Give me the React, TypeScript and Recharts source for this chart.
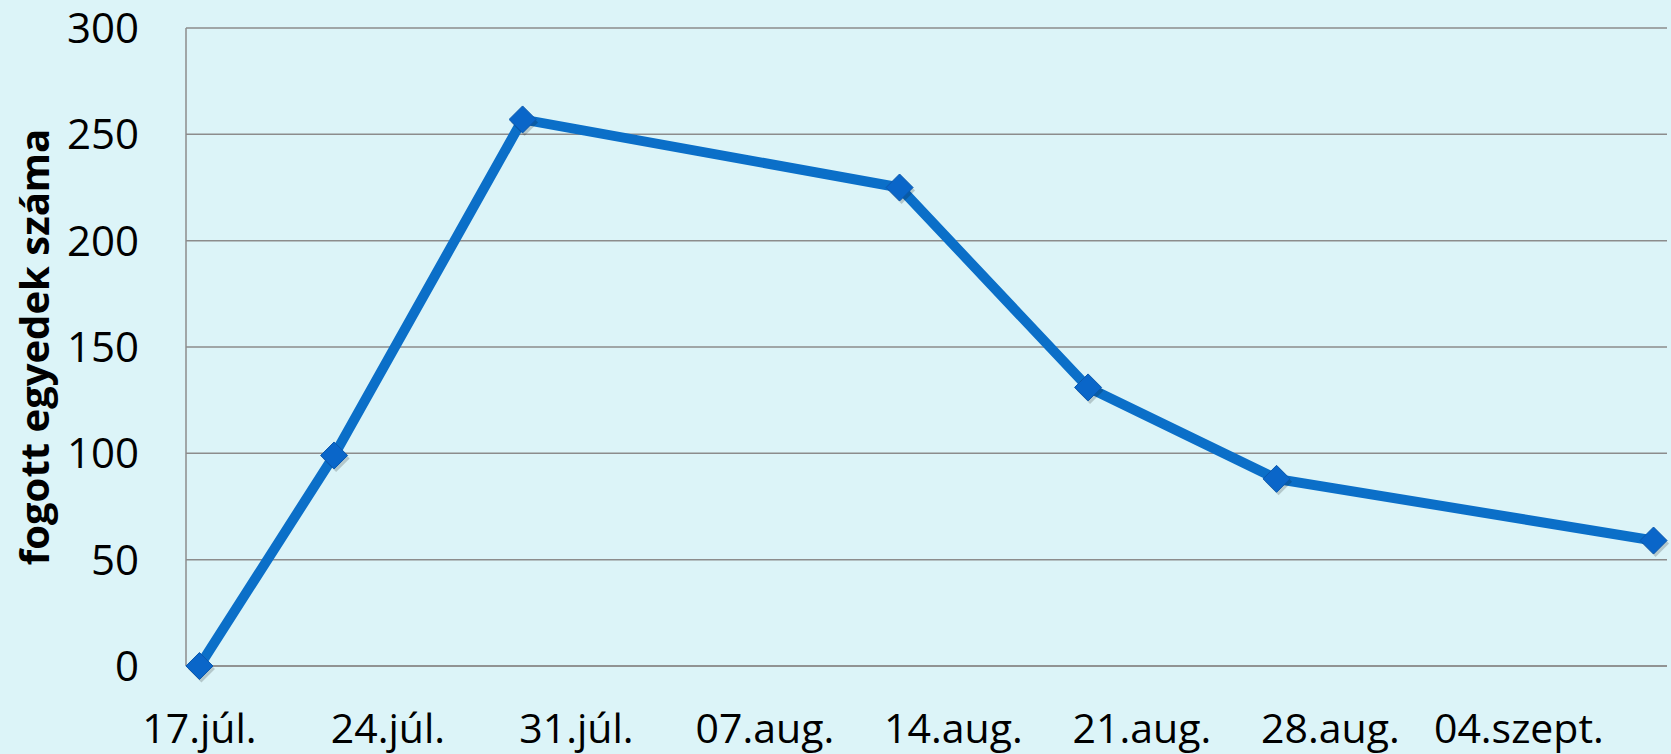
import React from "react";
import { LineChart, Line, XAxis, YAxis, CartesianGrid } from "recharts";

// sampling dates and counts
const sampleDates = ["2013-07-17", "2013-07-22", "2013-07-29", "2013-08-12", "2013-08-19", "2013-08-26", "2013-09-09"];
const counts = [0, 99, 257, 225, 131, 88, 59];

const tickDates = ["2013-07-17", "2013-07-24", "2013-07-31", "2013-08-07", "2013-08-14", "2013-08-21", "2013-08-28", "2013-09-04"];
const tickLabels = ["17.júl.", "24.júl.", "31.júl.", "07.aug.", "14.aug.", "21.aug.", "28.aug.", "04.szept."];

const yTicks = [0, 50, 100, 150, 200, 250, 300];

const DAY = 24 * 3600 * 1000;
const start = Date.parse(sampleDates[0]);
const dayOf = (d: string) => Math.round((Date.parse(d) - start) / DAY);

const data = sampleDates.map((d, i) => ({ day: dayOf(d), count: counts[i] }));
const xTicks = tickDates.map(dayOf);
const labelOf = (v: number) => tickLabels[xTicks.indexOf(v)] ?? "";

const FONT = "'Open Sans', sans-serif";
const GRID = "#8c8c8c";
const BLUE = "#0b6fc8";

const Diamond = (props: any) => {
  const { cx, cy, index } = props;
  if (cx == null || cy == null) return null;
  const r = 13.5;
  const d = (x: number, y: number) => `M${x},${y - r} L${x + r},${y} L${x},${y + r} L${x - r},${y} Z`;
  return (
    <g key={`dot-${index}`}>
      <path d={d(cx + 2, cy + 3)} fill="rgba(0,0,0,0.18)" />
      <path d={d(cx, cy)} fill="#0a66c9" stroke="#0a57ad" strokeWidth={1} />
    </g>
  );
};

const AxisTitle = (props: any) => {
  const vb = props.viewBox || {};
  const x = (vb.x ?? 0) + 33;
  const y = (vb.y ?? 0) + (vb.height ?? 0) / 2;
  return (
    <text
      x={x}
      y={y}
      transform={`rotate(-90, ${x}, ${y})`}
      textAnchor="middle"
      dominantBaseline="central"
      fontFamily={FONT}
      fontWeight="bold"
      fontSize={40}
      fill="#000"
    >
      fogott egyedek száma
    </text>
  );
};

export default function App() {
  return (
    <div style={{ width: 1671, height: 754, background: "#dcf4f8" }}>
      <style>{`body{margin:0;background:#dcf4f8}`}</style>
      <LineChart width={1671} height={754} data={data} margin={{ top: 28, right: 4, left: 0, bottom: 0 }}>
        <CartesianGrid vertical={false} stroke={GRID} strokeWidth={1.5} />
        <XAxis
          type="number"
          dataKey="day"
          domain={[-0.5, 54.5]}
          ticks={xTicks}
          tickFormatter={labelOf}
          interval={0}
          height={88}
          tickLine={false}
          tickSize={0}
          tickMargin={48}
          axisLine={{ stroke: GRID, strokeWidth: 1.5 }}
          tick={{ fill: "#000", fontSize: 41, fontFamily: FONT }}
        />
        <YAxis
          type="number"
          domain={[0, 300]}
          ticks={yTicks}
          interval={0}
          width={186}
          tickLine={false}
          tickSize={0}
          tickMargin={47}
          axisLine={{ stroke: GRID, strokeWidth: 1.5 }}
          tick={{ fill: "#000", fontSize: 42, fontFamily: FONT }}
          label={<AxisTitle />}
        />
        <Line
          type="linear"
          dataKey="count"
          stroke={BLUE}
          strokeWidth={10}
          dot={<Diamond />}
          activeDot={false}
          isAnimationActive={false}
        />
      </LineChart>
    </div>
  );
}
